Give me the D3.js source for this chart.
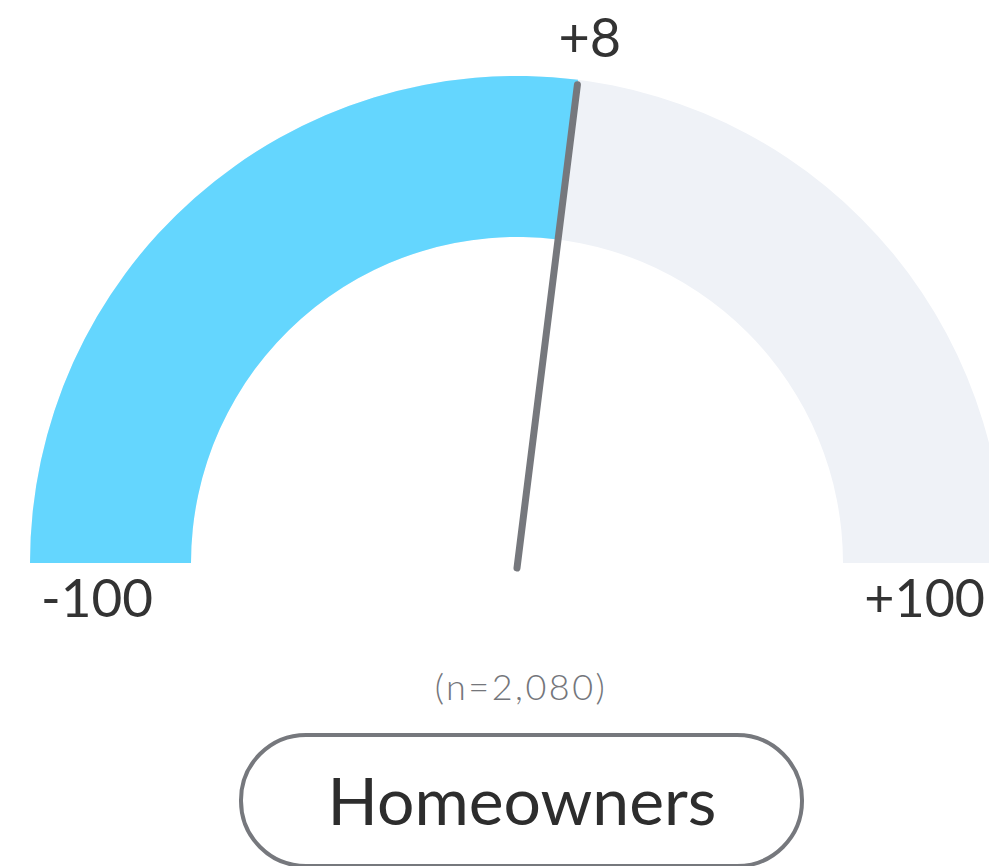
<!DOCTYPE html>
<html>
<head>
<meta charset="utf-8">
<script src="https://cdn.jsdelivr.net/npm/d3@7"></script>
<style>
  html, body { margin: 0; padding: 0; background: #fff; overflow: hidden; }
  text { font-family: Lato, "Open Sans", sans-serif; }
</style>
</head>
<body>
<div id="chart"></div>
<script>
// gauge data
const domainEnds = [-100, 100];
const scoreValue = [8];
const endLabels = ["-100", "+100"];
const sampleLabel = ["(n=2,080)"];
const groupLabel = ["Homeowners"];

const width = 989, height = 866;
const cx = 517, cy = 563;
const outerR = 487, innerR = 326;

const svg = d3.select("#chart").append("svg")
    .attr("width", width)
    .attr("height", height);

// value -> angle (radians, 0 = straight up)
const angle = d3.scaleLinear()
    .domain(domainEnds)
    .range([-Math.PI / 2, Math.PI / 2]);

const arc = d3.arc()
    .innerRadius(innerR)
    .outerRadius(outerR);

const g = svg.append("g").attr("transform", `translate(${cx},${cy})`);

// background track
g.append("path")
    .attr("d", arc({startAngle: angle(domainEnds[0]), endAngle: angle(domainEnds[1])}))
    .attr("fill", "#eff2f7");

// filled part up to the score
g.append("path")
    .attr("d", arc({startAngle: angle(domainEnds[0]), endAngle: angle(scoreValue[0])}))
    .attr("fill", "#64d6fe");

// needle
const a = angle(scoreValue[0]);
const tipR = outerR - 5;
g.append("line")
    .attr("x1", 0)
    .attr("y1", 5)
    .attr("x2", tipR * Math.sin(a))
    .attr("y2", -tipR * Math.cos(a))
    .attr("stroke", "#76787d")
    .attr("stroke-width", 7)
    .attr("stroke-linecap", "round");

// score label above needle tip
g.append("text")
    .attr("x", (outerR + 30) * Math.sin(a) + 8)
    .attr("y", -outerR - 19)
    .attr("text-anchor", "middle")
    .attr("fill", "#333")
    .attr("font-size", 54)
    .text((scoreValue[0] > 0 ? "+" : "") + scoreValue[0]);

// end labels
g.append("text")
    .attr("x", -outerR + 11)
    .attr("y", 54)
    .attr("text-anchor", "start")
    .attr("fill", "#333")
    .attr("font-size", 53)
    .text(endLabels[0]);

g.append("text")
    .attr("x", width - cx - 4)
    .attr("y", 54)
    .attr("text-anchor", "end")
    .attr("fill", "#333")
    .attr("font-size", 52)
    .text(endLabels[1]);

// sample size
svg.append("text")
    .attr("x", 521)
    .attr("y", 700)
    .attr("text-anchor", "middle")
    .attr("fill", "#74767b")
    .attr("font-size", 36)
    .attr("font-weight", 300)
    .attr("letter-spacing", 2.5)
    .text(sampleLabel[0]);

// group pill
const pill = svg.append("g");
pill.append("rect")
    .attr("x", 241)
    .attr("y", 735)
    .attr("width", 561)
    .attr("height", 131)
    .attr("rx", 65)
    .attr("fill", "#fff")
    .attr("stroke", "#76787d")
    .attr("stroke-width", 4);

pill.append("text")
    .attr("x", 522)
    .attr("y", 825)
    .attr("text-anchor", "middle")
    .attr("fill", "#2d2d2d")
    .attr("font-size", 66)
    .text(groupLabel[0]);
</script>
</body>
</html>
